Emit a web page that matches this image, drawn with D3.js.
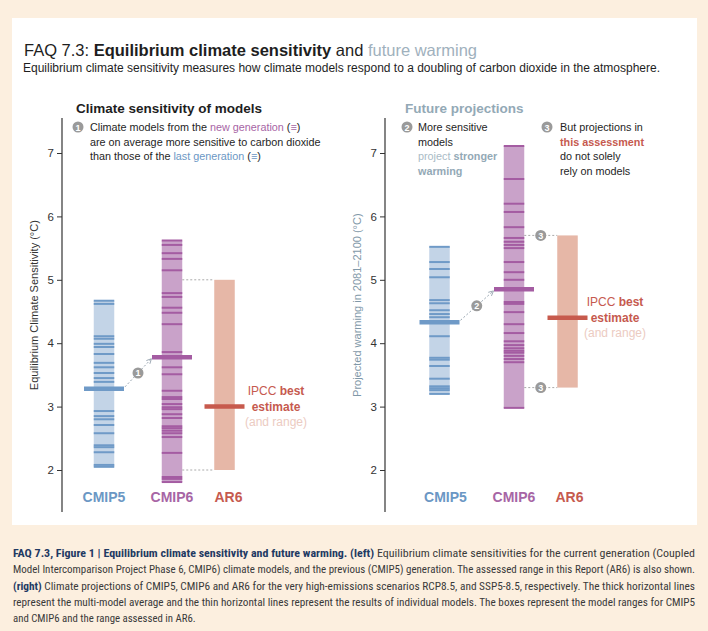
<!DOCTYPE html>
<html><head><meta charset="utf-8">
<script src="https://cdn.jsdelivr.net/npm/d3@7"></script>
<style>
html,body{margin:0;padding:0;background:#fcefdf;}
svg{display:block;font-family:"Liberation Sans",Arial,sans-serif;}
</style></head>
<body>
<svg id="chart" width="708" height="631"></svg>
<script>
// ---- data ----
const categories = ["CMIP5", "CMIP6", "AR6"];
const yTicks = [2, 3, 4, 5, 6, 7];
// left: equilibrium climate sensitivity (°C)
const ecsCmip5Models = [4.67, 4.62, 4.11, 4.07, 3.99, 3.94, 3.83, 3.69, 3.62, 3.53, 3.45, 3.39, 2.93, 2.85, 2.80, 2.71, 2.58, 2.39, 2.36, 2.28, 2.08, 2.05];
const ecsCmip5Mean = 3.28;
const ecsCmip6Models = [5.62, 5.55, 5.42, 5.33, 5.15, 4.79, 4.73, 4.56, 4.48, 4.30, 3.86, 3.62, 3.51, 3.25, 3.15, 3.12, 3.04, 2.99, 2.96, 2.88, 2.82, 2.69, 2.66, 2.62, 2.58, 2.52, 2.27, 1.89, 1.86, 1.81];
const ecsCmip6Mean = 3.78;
const ecsAr6Range = [2.0, 5.0];
const ecsAr6Best = 3.0;
// right: projected warming 2081-2100 (°C)
const warmCmip5Models = [5.52, 5.28, 5.17, 5.04, 4.68, 4.63, 4.52, 4.46, 4.41, 4.11, 3.77, 3.74, 3.64, 3.44, 3.32, 3.29, 3.26, 3.20];
const warmCmip5Mean = 4.33;
const warmCmip6Models = [7.11, 6.59, 6.20, 6.07, 5.83, 5.66, 5.60, 5.55, 5.50, 5.28, 5.12, 5.00, 4.65, 4.62, 4.49, 4.30, 4.16, 4.03, 3.97, 3.92, 3.88, 3.85, 3.80, 3.75, 3.70, 2.98];
const warmCmip6Mean = 4.85;
const warmAr6Range = [3.3, 5.7];
const warmAr6Best = 4.4;

// ---- colours ----
const C = {
  blueFill: "#c3d4e7", blueLine: "#6f9ac7", blueText: "#6b97c4",
  purpFill: "#c9a2c9", purpLine: "#a45ca2", purpText: "#a765a5",
  redFill: "#e6b7a7", redLine: "#c75a4d", redText: "#c65a4f",
  grayBlue: "#93a9b6", dark: "#1e1e1e"
};
const FS = 10.8; // annotation font size

const svg = d3.select("#chart");
svg.append("rect").attr("x", 0).attr("y", 0).attr("width", 708).attr("height", 631).attr("fill", "#fcefdf");
svg.append("rect").attr("x", 12).attr("y", 18).attr("width", 685).attr("height", 507).attr("fill", "#ffffff");

// header
const t1 = svg.append("text").attr("x", 24).attr("y", 56).attr("font-size", 16.5).attr("fill", C.dark);
t1.append("tspan").text("FAQ 7.3: ");
t1.append("tspan").attr("font-weight", "bold").text("Equilibrium climate sensitivity");
t1.append("tspan").text(" and ");
t1.append("tspan").attr("fill", "#9fb1bd").text("future warming");
svg.append("text").attr("x", 23).attr("y", 72).attr("font-size", 12).attr("fill", C.dark)
  .text("Equilibrium climate sensitivity measures how climate models respond to a doubling of carbon dioxide in the atmosphere.");

const y = d3.scaleLinear().domain([2, 7]).range([470, 153]);

function drawAxis(x0, label, labelColor) {
  const g = svg.append("g").attr("transform", `translate(${x0},0)`);
  g.call(d3.axisLeft(y).tickValues(yTicks).tickFormat(d3.format("d")).tickSize(5).tickPadding(3));
  g.select(".domain").remove();
  g.selectAll(".tick line").attr("stroke", "#333");
  g.selectAll(".tick text").attr("font-size", 11.5).attr("fill", "#333").attr("font-family", "Liberation Sans, Arial, sans-serif");
  svg.append("line").attr("x1", x0).attr("x2", x0).attr("y1", 118).attr("y2", 512).attr("stroke", "#333").attr("stroke-width", 1.2);
  svg.append("text").attr("transform", `translate(${x0 - 24},${y(4.6)}) rotate(-90)`)
    .attr("text-anchor", "middle").attr("font-size", 11).attr("fill", labelColor).text(label);
}

function marker(cx, cy, n) {
  svg.append("circle").attr("cx", cx).attr("cy", cy).attr("r", 5.5).attr("fill", "#9a9a9a");
  svg.append("text").attr("x", cx).attr("y", cy + 3.5).attr("text-anchor", "middle").attr("font-size", 9)
    .attr("font-weight", "bold").attr("fill", "#fff").text(n);
}

svg.append("defs").append("marker").attr("id", "arr").attr("viewBox", "0 0 10 10").attr("refX", 8).attr("refY", 5)
  .attr("markerWidth", 6).attr("markerHeight", 6).attr("orient", "auto")
  .append("path").attr("d", "M1,1 L9,5 L1,9").attr("fill", "none").attr("stroke", "#9aa7b2").attr("stroke-width", 1.5);

function drawPanel(cfg) {
  const x = d3.scaleOrdinal().domain(categories).range(cfg.centers);
  const bw = 20.5, mw = 40;
  [[categories[0], cfg.m5, cfg.mean5, C.blueFill, C.blueLine], [categories[1], cfg.m6, cfg.mean6, C.purpFill, C.purpLine]]
    .forEach(([cat, models, mean, fill, line]) => {
      const ext = d3.extent(models);
      svg.append("rect").attr("x", x(cat) - bw / 2).attr("y", y(ext[1])).attr("width", bw)
        .attr("height", y(ext[0]) - y(ext[1])).attr("fill", fill);
      svg.append("g").selectAll("line").data(models).join("line")
        .attr("x1", x(cat) - bw / 2).attr("x2", x(cat) + bw / 2)
        .attr("y1", d => y(d)).attr("y2", d => y(d)).attr("stroke", line).attr("stroke-width", 2);
      svg.append("line").attr("x1", x(cat) - mw / 2).attr("x2", x(cat) + mw / 2)
        .attr("y1", y(mean)).attr("y2", y(mean)).attr("stroke", line).attr("stroke-width", 4.5);
    });
  // AR6
  const a = categories[2];
  svg.append("rect").attr("x", x(a) - bw / 2).attr("y", y(cfg.ar6[1])).attr("width", bw)
    .attr("height", y(cfg.ar6[0]) - y(cfg.ar6[1])).attr("fill", C.redFill);
  svg.append("line").attr("x1", x(a) - mw / 2).attr("x2", x(a) + mw / 2)
    .attr("y1", y(cfg.best)).attr("y2", y(cfg.best)).attr("stroke", C.redLine).attr("stroke-width", 4.5);
  cfg.ar6.forEach(v => {
    svg.append("line").attr("x1", x(categories[1]) + bw / 2).attr("x2", x(a) - bw / 2)
      .attr("y1", y(v)).attr("y2", y(v)).attr("stroke", "#aaa").attr("stroke-width", 1).attr("stroke-dasharray", "2,2");
    if (cfg.rangeMarker) marker((x(categories[1]) + bw / 2 + x(a) - bw / 2) / 2, y(v), cfg.rangeMarker);
  });
  const x1 = x(categories[0]) + mw / 2 + 1, y1 = y(cfg.mean5) - 2;
  const x2 = x(categories[1]) - mw / 2 - 1, y2 = y(cfg.mean6) + 2;
  svg.append("line").attr("x1", x1).attr("y1", y1).attr("x2", x2).attr("y2", y2)
    .attr("stroke", "#9aa7b2").attr("stroke-width", 1).attr("stroke-dasharray", "2,2").attr("marker-end", "url(#arr)");
  marker((x1 + x2) / 2, (y1 + y2) / 2, cfg.arrowMarker);
  const lx = cfg.ipccX;
  const l1 = svg.append("text").attr("x", lx).attr("y", y(cfg.best) - 12).attr("text-anchor", "middle").attr("font-size", 12).attr("fill", C.redText);
  l1.append("tspan").text("IPCC ");
  l1.append("tspan").attr("font-weight", "bold").text("best");
  svg.append("text").attr("x", lx).attr("y", y(cfg.best) + 4).attr("text-anchor", "middle").attr("font-size", 12)
    .attr("font-weight", "bold").attr("fill", C.redText).text("estimate");
  svg.append("text").attr("x", lx).attr("y", y(cfg.best) + 19).attr("text-anchor", "middle").attr("font-size", 12)
    .attr("fill", "#eccbc2").text("(and range)");
  const colors = [C.blueText, C.purpText, C.redText];
  categories.forEach((c, i) => {
    svg.append("text").attr("x", x(c) + cfg.labelShift[i]).attr("y", 502).attr("text-anchor", "middle")
      .attr("font-size", 14).attr("font-weight", "bold").attr("fill", colors[i]).text(c);
  });
}

// ---- left panel ----
drawAxis(62, "Equilibrium Climate Sensitivity (°C)", "#333");
svg.append("text").attr("x", 76).attr("y", 113).attr("font-size", 13.5).attr("font-weight", "bold").attr("fill", C.dark)
  .text("Climate sensitivity of models");
marker(78, 127, "1");
let tx = svg.append("text").attr("x", 90).attr("y", 131).attr("font-size", FS).attr("fill", C.dark);
tx.append("tspan").text("Climate models from the ");
tx.append("tspan").attr("fill", C.purpText).text("new generation");
tx.append("tspan").text(" (");
tx.append("tspan").attr("fill", C.purpText).text("≡");
tx.append("tspan").text(")");
svg.append("text").attr("x", 90).attr("y", 145.5).attr("font-size", FS).attr("fill", C.dark)
  .text("are on average more sensitive to carbon dioxide");
tx = svg.append("text").attr("x", 90).attr("y", 160).attr("font-size", FS).attr("fill", C.dark);
tx.append("tspan").text("than those of the ");
tx.append("tspan").attr("fill", C.blueText).text("last generation");
tx.append("tspan").text(" (");
tx.append("tspan").attr("fill", C.blueText).text("≡");
tx.append("tspan").text(")");

drawPanel({
  centers: [104, 172, 224.5], m5: ecsCmip5Models, mean5: ecsCmip5Mean, m6: ecsCmip6Models, mean6: ecsCmip6Mean,
  ar6: ecsAr6Range, best: ecsAr6Best, arrowMarker: "1", rangeMarker: null, ipccX: 276, labelShift: [0, 0, 4]
});

// ---- right panel ----
drawAxis(385, "Projected warming in 2081–2100 (°C)", "#7f98a8");
svg.append("text").attr("x", 405).attr("y", 113).attr("font-size", 13.5).attr("font-weight", "bold").attr("fill", C.grayBlue)
  .text("Future projections");
marker(407, 127, "2");
svg.append("text").attr("x", 418).attr("y", 131).attr("font-size", FS).attr("fill", C.dark).text("More sensitive");
svg.append("text").attr("x", 418).attr("y", 145.5).attr("font-size", FS).attr("fill", C.dark).text("models");
tx = svg.append("text").attr("x", 418).attr("y", 160).attr("font-size", FS).attr("fill", "#a9bbc6");
tx.append("tspan").text("project ");
tx.append("tspan").attr("font-weight", "bold").attr("fill", C.grayBlue).text("stronger");
svg.append("text").attr("x", 418).attr("y", 174.5).attr("font-size", FS).attr("font-weight", "bold").attr("fill", C.grayBlue).text("warming");
marker(547, 127, "3");
svg.append("text").attr("x", 560).attr("y", 131).attr("font-size", FS).attr("fill", C.dark).text("But projections in");
svg.append("text").attr("x", 560).attr("y", 145.5).attr("font-size", FS).attr("font-weight", "bold").attr("fill", C.redText).text("this assessment");
svg.append("text").attr("x", 560).attr("y", 160).attr("font-size", FS).attr("fill", C.dark).text("do not solely");
svg.append("text").attr("x", 560).attr("y", 174.5).attr("font-size", FS).attr("fill", C.dark).text("rely on models");

drawPanel({
  centers: [439.5, 514, 567.5], m5: warmCmip5Models, mean5: warmCmip5Mean, m6: warmCmip6Models, mean6: warmCmip6Mean,
  ar6: warmAr6Range, best: warmAr6Best, arrowMarker: "2", rangeMarker: "3", ipccX: 615, labelShift: [6, 0, 2]
});

// ---- caption ----
const capLines = [
  [["FAQ 7.3, Figure 1 | Equilibrium climate sensitivity and future warming. (left)", true], [" Equilibrium climate sensitivities for the current generation (Coupled", false]],
  [["Model Intercomparison Project Phase 6, CMIP6) climate models, and the previous (CMIP5) generation. The assessed range in this Report (AR6) is also shown.", false]],
  [["(right)", true], [" Climate projections of CMIP5, CMIP6 and AR6 for the very high-emissions scenarios RCP8.5, and SSP5-8.5, respectively. The thick horizontal lines", false]],
  [["represent the multi-model average and the thin horizontal lines represent the results of individual models. The boxes represent the model ranges for CMIP5", false]],
  [["and CMIP6 and the range assessed in AR6.", false]]
];
capLines.forEach((parts, i) => {
  const t = svg.append("text").attr("x", 13).attr("y", 557 + i * 16.3).attr("font-size", 10.8)
    .attr("font-family", "'Liberation Sans Narrow','Roboto Condensed','Arial Narrow',sans-serif").attr("fill", "#3a3a3a");
  if (i < 4) t.attr("textLength", 682).attr("lengthAdjust", "spacingAndGlyphs");
  parts.forEach(([s, b]) => {
    const ts = t.append("tspan").text(s);
    if (b) ts.attr("font-weight", "bold").attr("fill", "#1f3a63");
  });
});
</script>
</body></html>
